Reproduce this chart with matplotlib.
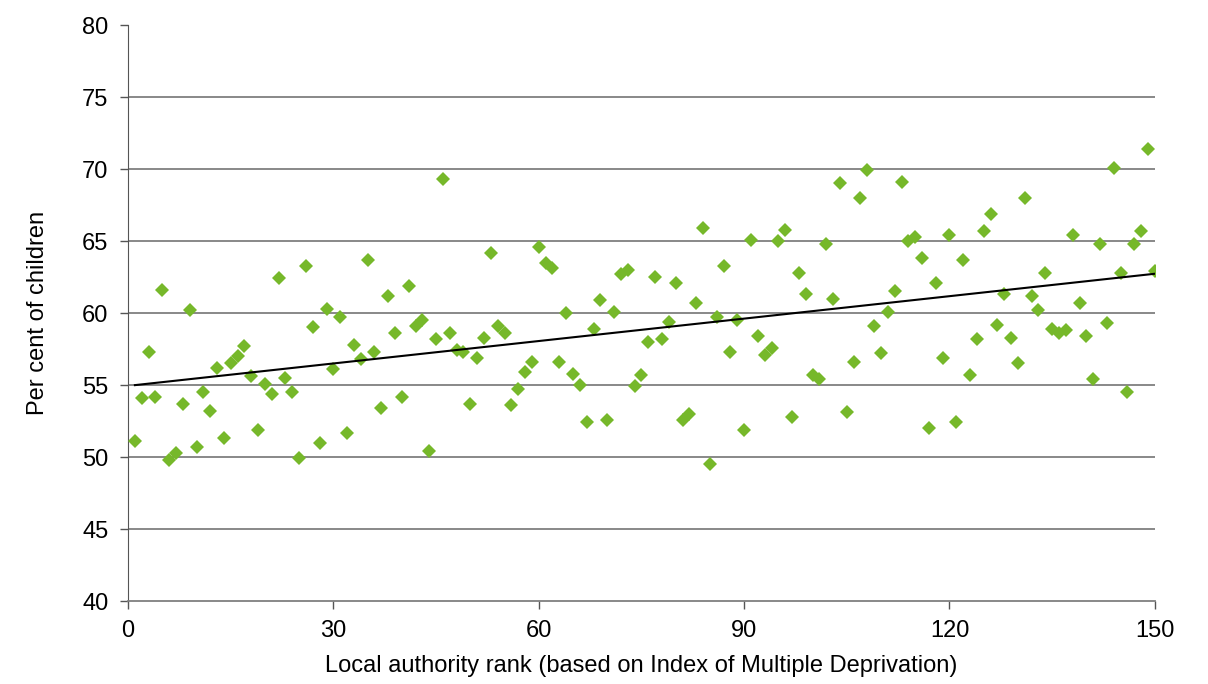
import numpy as np
import matplotlib
matplotlib.use("Agg")
import matplotlib.pyplot as plt

plt.rcParams['font.family'] = ['Liberation Sans', 'DejaVu Sans']

# local authority rank (1..150) and per cent of children
rank = np.arange(1, 151)
per_cent = [
    51.1, 54.1, 57.3, 54.2, 61.6, 49.8, 50.3, 53.7, 60.2, 50.7,
    54.5, 53.2, 56.2, 51.3, 56.5, 57.0, 57.7, 55.6, 51.9, 55.1,
    54.4, 62.4, 55.5, 54.5, 49.95, 63.3, 59.0, 51.0, 60.3, 56.1,
    59.7, 51.7, 57.8, 56.8, 63.7, 57.3, 53.4, 61.2, 58.6, 54.2,
    61.9, 59.1, 59.5, 50.4, 58.2, 69.3, 58.6, 57.4, 57.3, 53.7,
    56.9, 58.3, 64.2, 59.1, 58.6, 53.6, 54.7, 55.9, 56.6, 64.6,
    63.5, 63.1, 56.6, 60.0, 55.8, 55.0, 52.4, 58.9, 60.9, 52.6,
    60.1, 62.7, 63.0, 54.9, 55.7, 58.0, 62.5, 58.2, 59.4, 62.1,
    52.6, 53.0, 60.7, 65.9, 49.5, 59.7, 63.3, 57.3, 59.5, 51.9,
    65.1, 58.4, 57.1, 57.6, 65.0, 65.8, 52.8, 62.8, 61.3, 55.7,
    55.4, 64.8, 61.0, 69.0, 53.1, 56.6, 68.0, 69.9, 59.1, 57.2,
    60.1, 61.5, 69.1, 65.0, 65.3, 63.8, 52.0, 62.1, 56.9, 65.4,
    52.4, 63.7, 55.7, 58.2, 65.7, 66.9, 59.2, 61.3, 58.3, 56.5,
    68.0, 61.2, 60.2, 62.8, 58.9, 58.6, 58.8, 65.4, 60.7, 58.4,
    55.4, 64.8, 59.3, 70.1, 62.8, 54.5, 64.8, 65.7, 71.4, 62.9,
]

x_ticks = [0, 30, 60, 90, 120, 150]
y_ticks = [40, 45, 50, 55, 60, 65, 70, 75, 80]

# linear trend line (like the spreadsheet trendline)
slope, intercept = np.polyfit(rank, per_cent, 1)
trend_x = np.array([rank[0], rank[-1]])
trend_y = slope * trend_x + intercept

fig = plt.figure(figsize=(12.08, 6.84), dpi=100)
ax = fig.add_axes([0.106, 0.1213, 0.85, 0.8421])

for yv in y_ticks[1:-1]:
    ax.axhline(yv, color='#7f7f7f', lw=1.3, zorder=1)

ax.plot(rank, per_cent, linestyle='none', marker='D', markersize=7.5,
        color='#76b82a', markeredgewidth=0, zorder=3)
ax.plot(trend_x, trend_y, color='black', lw=1.5, zorder=4)

ax.set_xlim(0, 150)
ax.set_ylim(40, 80)
ax.set_xticks(x_ticks)
ax.set_yticks(y_ticks)
ax.tick_params(axis='both', labelsize=17, length=6, width=1,
               color='#555555', pad=8)

for side in ('top', 'right'):
    ax.spines[side].set_visible(False)
ax.spines['left'].set_color('#555555')
ax.spines['bottom'].set_color('#7f7f7f')
ax.spines['bottom'].set_linewidth(1.3)

ax.set_xlabel("Local authority rank (based on Index of Multiple Deprivation)",
              fontsize=17, labelpad=9)
ax.set_ylabel("Per cent of children", fontsize=17, labelpad=24)

plt.savefig('out.png', dpi=100)
